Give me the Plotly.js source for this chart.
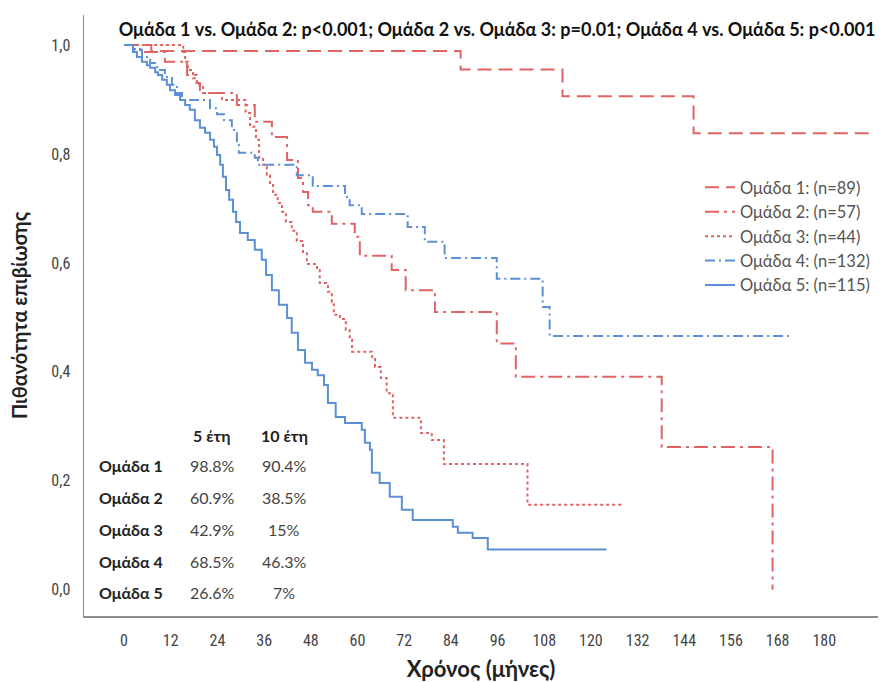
<!DOCTYPE html>
<html>
<head>
<meta charset="utf-8">
<script src="https://cdn.plot.ly/plotly-3.0.1.min.js"></script>
<style>html,body{margin:0;padding:0;background:#fff}#chart{width:892px;height:682px}</style>
</head>
<body>
<div id="chart"></div>
<script>
// ---- Data ----
var groupNames = ["Ομάδα 1: (n=89)", "Ομάδα 2: (n=57)", "Ομάδα 3: (n=44)", "Ομάδα 4: (n=132)", "Ομάδα 5: (n=115)"];

var g1_t = [0, 7, 86.5, 112.7, 146.4, 193];
var g1_s = [1.0, 0.989, 0.955, 0.906, 0.838, 0.838];

var g2_t = [0, 4.1, 10.5, 16.2, 18.7, 19.5, 29.0, 33.6, 38.0, 41.9, 44.7, 46.0, 47.3, 48.5, 53.4, 59.3, 60.6, 68.8, 72.4, 79.9, 95.8, 100.7, 138.2, 166.7];
var g2_s = [1.0, 0.987, 0.969, 0.945, 0.930, 0.912, 0.890, 0.859, 0.831, 0.789, 0.756, 0.730, 0.706, 0.694, 0.672, 0.648, 0.613, 0.587, 0.550, 0.510, 0.452, 0.391, 0.262, 0.0];

var g3_t = [0, 15.2, 15.7, 16.4, 17.7, 18.7, 20.3, 25.2, 31.2, 32.4, 33.9, 34.7, 35.7, 36.7, 37.5, 38.3, 39.5, 40.6, 41.6, 43.1, 44.4, 46.0, 47.0, 49.6, 50.3, 52.4, 53.4, 53.9, 55.5, 57.0, 58.0, 58.6, 63.7, 64.5, 66.0, 67.5, 69.1, 76.3, 79.1, 82.2, 103.7, 127.9];
var g3_s = [1.0, 0.987, 0.969, 0.954, 0.939, 0.927, 0.912, 0.899, 0.875, 0.850, 0.826, 0.793, 0.780, 0.761, 0.743, 0.725, 0.710, 0.694, 0.675, 0.659, 0.640, 0.620, 0.598, 0.587, 0.563, 0.547, 0.528, 0.505, 0.497, 0.477, 0.459, 0.437, 0.428, 0.409, 0.389, 0.361, 0.316, 0.288, 0.275, 0.231, 0.156, 0.156];

var g4_t = [0, 2.8, 4.6, 6.7, 8.5, 10.5, 12.3, 13.6, 14.9, 22.1, 23.9, 25.7, 27.7, 29.0, 29.5, 33.6, 34.4, 44.4, 48.5, 56.8, 58.0, 61.1, 72.9, 77.3, 82.4, 95.8, 107.6, 109.4, 171.8];
var g4_s = [1.0, 0.991, 0.978, 0.967, 0.954, 0.941, 0.927, 0.912, 0.899, 0.884, 0.873, 0.862, 0.844, 0.817, 0.802, 0.793, 0.780, 0.761, 0.741, 0.721, 0.706, 0.690, 0.666, 0.639, 0.609, 0.571, 0.519, 0.466, 0.466];

var g5_t = [0, 2.3, 3.3, 4.6, 5.9, 6.7, 8.0, 8.7, 9.8, 11.0, 11.8, 13.1, 14.4, 15.7, 16.9, 18.2, 19.5, 20.8, 22.1, 23.1, 23.9, 24.7, 25.4, 26.2, 27.0, 28.0, 28.8, 29.8, 31.8, 33.6, 35.4, 36.5, 38.0, 39.8, 41.9, 43.1, 44.7, 46.5, 48.3, 49.8, 51.4, 52.4, 54.4, 56.8, 61.1, 61.9, 63.2, 63.7, 65.7, 68.3, 71.4, 74.2, 84.5, 85.8, 89.6, 93.5, 124.0];
var g5_s = [1.0, 0.987, 0.978, 0.969, 0.963, 0.958, 0.950, 0.945, 0.936, 0.927, 0.917, 0.908, 0.899, 0.890, 0.881, 0.862, 0.848, 0.839, 0.826, 0.813, 0.798, 0.780, 0.758, 0.734, 0.716, 0.694, 0.675, 0.655, 0.642, 0.624, 0.606, 0.578, 0.550, 0.523, 0.499, 0.472, 0.440, 0.417, 0.404, 0.394, 0.376, 0.343, 0.317, 0.306, 0.294, 0.270, 0.257, 0.215, 0.196, 0.171, 0.147, 0.128, 0.116, 0.105, 0.095, 0.074, 0.074];

var xTickVals = [0, 12, 24, 36, 48, 60, 72, 84, 96, 108, 120, 132, 144, 156, 168, 180];
var yTickVals = [0, 0.2, 0.4, 0.6, 0.8, 1.0];
var yTickText = ["0,0", "0,2", "0,4", "0,6", "0,8", "1,0"];

var titleText = "Ομάδα 1 vs. Ομάδα 2: p<0.001; Ομάδα 2 vs. Ομάδα 3: p=0.01; Ομάδα 4 vs. Ομάδα 5: p<0.001";
var xTitle = "Χρόνος (μήνες)";
var yTitle = "Πιθανότητα επιβίωσης";

var tblHeader = ["5 έτη", "10 έτη"];
var tblGroups = ["Ομάδα 1", "Ομάδα 2", "Ομάδα 3", "Ομάδα 4", "Ομάδα 5"];
var tbl5y = ["98.8%", "60.9%", "42.9%", "68.5%", "26.6%"];
var tbl10y = ["90.4%", "38.5%", "15%", "46.3%", "7%"];

// ---- Styles ----
var RED = "#e06464", BLUE = "#5b8fd6";
var series = [[g1_t, g1_s], [g2_t, g2_s], [g3_t, g3_s], [g4_t, g4_s], [g5_t, g5_s]];
var colors = [RED, RED, RED, BLUE, BLUE];
var dashes = ["14px,7px", "14px,5px,3px,5px", "3px,3px", "10px,4px,2px,4px", "solid"];

var traces = series.map(function (s, i) {
  return {
    x: s[0], y: s[1], name: groupNames[i], type: "scatter", mode: "lines",
    line: {shape: "hv", color: colors[i], width: 2, dash: dashes[i]},
    hoverinfo: "skip"
  };
});

// pixel -> paper helpers for layout (plot area 84..878 x 15..616)
var L = 84, R = 878, T = 15, B = 616;
function px(x) { return (x - L) / (R - L); }
function py(y) { return (B - y) / (B - T); }

var TXT = "Lato, 'Noto Sans', sans-serif";
var annotations = [];
var colX = [212, 284];
tblHeader.forEach(function (h, j) {
  annotations.push({xref: "paper", yref: "paper", x: px(colX[j]), y: py(435), text: "<b>" + h + "</b>",
    showarrow: false, xanchor: "center", yanchor: "middle", font: {family: TXT, size: 16, color: "#222"}});
});
var rowY = [465, 497, 529, 561, 592];
tblGroups.forEach(function (g, i) {
  annotations.push({xref: "paper", yref: "paper", x: px(97), y: py(rowY[i]), text: "<b>" + g + "</b>",
    showarrow: false, xanchor: "left", yanchor: "middle", font: {family: TXT, size: 16, color: "#222"}});
  annotations.push({xref: "paper", yref: "paper", x: px(colX[0]), y: py(rowY[i]), text: tbl5y[i],
    showarrow: false, xanchor: "center", yanchor: "middle", font: {family: TXT, size: 16, color: "#444"}});
  annotations.push({xref: "paper", yref: "paper", x: px(colX[1]), y: py(rowY[i]), text: tbl10y[i],
    showarrow: false, xanchor: "center", yanchor: "middle", font: {family: TXT, size: 16, color: "#444"}});
});

var TICK = "'Liberation Sans Narrow', 'Arial Narrow', 'Roboto Condensed', 'Liberation Sans', sans-serif";
var layout = {
  width: 892, height: 682,
  margin: {l: L, r: 892 - R, t: T, b: 682 - B, pad: 0},
  paper_bgcolor: "#fff", plot_bgcolor: "#fff",
  showlegend: true,
  title: {text: "<b>" + titleText + "</b>", x: 497 / 892, xref: "container", xanchor: "center",
    y: 1 - 30 / 682, yref: "container", yanchor: "middle",
    font: {family: TXT, size: 18, color: "#111"}},
  legend: {x: px(700), y: py(170), xanchor: "left", yanchor: "top", bgcolor: "rgba(0,0,0,0)",
    font: {family: TXT, size: 16.5, color: "#555"}, itemwidth: 30, tracegroupgap: 0},
  xaxis: {range: [-10.3, 193.8], tickvals: xTickVals, showgrid: false, zeroline: false,
    showline: true, linecolor: "#8c8c8c", linewidth: 1.5, ticks: "", ticklabelstandoff: 9,
    tickfont: {family: TICK, size: 16, color: "#444"},
    title: {text: "<b>" + xTitle + "</b>", standoff: 20, font: {family: TXT, size: 22, color: "#222"}}},
  yaxis: {range: [-0.048, 1.055], tickvals: yTickVals, ticktext: yTickText, showgrid: false, zeroline: false,
    showline: true, linecolor: "#8c8c8c", linewidth: 1.5, ticks: "", ticklabelstandoff: 9,
    tickfont: {family: TICK, size: 16, color: "#444"},
    title: {text: "<b>" + yTitle + "</b>", standoff: 18, font: {family: TXT, size: 20, color: "#222"}}},
  annotations: annotations
};

Plotly.newPlot("chart", traces, layout, {displayModeBar: false, staticPlot: true});
</script>
</body>
</html>
